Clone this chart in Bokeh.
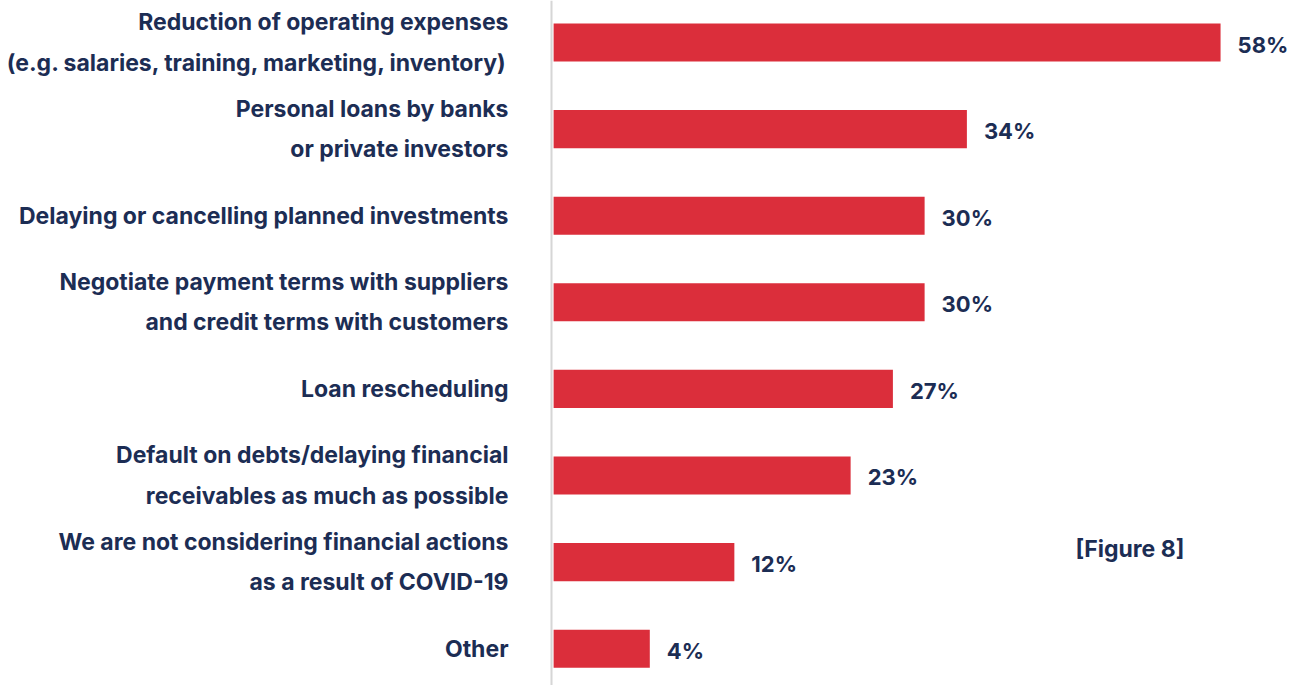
from bokeh.plotting import figure
from bokeh.models import Range1d, Span, Label, ColumnDataSource
from bokeh.core.properties import value
from bokeh.embed import file_html
from bokeh.resources import INLINE

categories = [
    "Reduction of operating expenses\n(e.g. salaries, training, marketing, inventory)",
    "Personal loans by banks\nor private investors",
    "Delaying or cancelling planned investments",
    "Negotiate payment terms with suppliers\nand credit terms with customers",
    "Loan rescheduling",
    "Default on debts/delaying financial\nreceivables as much as possible",
    "We are not considering financial actions\nas a result of COVID-19",
    "Other",
]
values = [58, 34, 30, 30, 27, 23, 12, 4]
value_labels = [f"{v}%" for v in values]

RED = "#DB2E3B"
NAVY = "#1C2D54"
FONT = "Inter"
BAR_START = -5.1
AXIS_X = -5.3

pos = list(range(len(categories)))
src = ColumnDataSource(dict(y=pos, v=values, cat=categories, lab=value_labels,
                            left=[BAR_START] * len(values)))

W, H = 1293, 685
p = figure(width=W, height=H, output_backend="svg", toolbar_location=None,
           x_range=Range1d(-57.43, 64.9), y_range=Range1d(7.425, -0.485),
           min_border=0, min_border_left=0, min_border_right=0,
           min_border_top=0, min_border_bottom=0)
p.xaxis.visible = False
p.yaxis.visible = False
p.xgrid.visible = False
p.ygrid.visible = False
p.outline_line_color = None
p.background_fill_color = "white"
p.border_fill_color = "white"

p.add_layout(Span(location=AXIS_X, dimension="height", line_color="#D6D6D6", line_width=2))

p.hbar(y="y", left="left", right="v", height=0.44, source=src, fill_color=RED, line_color=None)

p.text(x=AXIS_X, y="y", text="cat", source=src, x_offset=-43,
       text_align="right", text_baseline="middle", text_color=NAVY,
       text_font=value(FONT), text_font_style="bold", text_font_size="23px",
       text_line_height=1.44)

p.text(x="v", y="y", text="lab", source=src, x_offset=17, y_offset=2,
       text_align="left", text_baseline="middle", text_color=NAVY,
       text_font=value(FONT), text_font_style="bold", text_font_size="22px")

p.add_layout(Label(x=1075, y=H - 548, x_units="screen", y_units="screen", text="[Figure 8]",
                   text_align="left", text_baseline="middle", text_color=NAVY,
                   text_font=FONT, text_font_style="bold", text_font_size="23px"))

open("out.html", "w").write(file_html(p, INLINE))
